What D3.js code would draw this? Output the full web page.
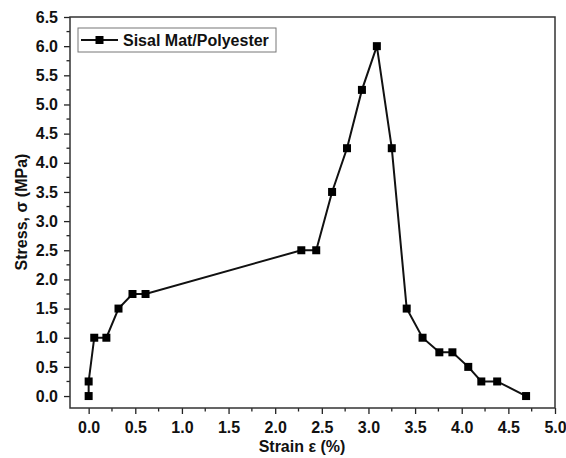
<!DOCTYPE html>
<html>
<head>
<meta charset="utf-8">
<script src="https://cdn.jsdelivr.net/npm/d3@7"></script>
<style>
  body { margin: 0; background: #fff; }
  text { font-family: "Liberation Sans", Arial, sans-serif; font-weight: bold; fill: #111; }
</style>
</head>
<body>
<div id="chart"></div>
<script>
const seriesName = 'Sisal Mat/Polyester';
const strain = [0.0, 0.0, 0.06, 0.19, 0.32, 0.47, 0.61, 2.28, 2.44, 2.61, 2.77, 2.93, 3.09, 3.25, 3.41, 3.58, 3.76, 3.90, 4.07, 4.21, 4.38, 4.69];
const stress = [0.0, 0.25, 1.0, 1.0, 1.5, 1.75, 1.75, 2.5, 2.5, 3.5, 4.25, 5.25, 6.0, 4.25, 1.5, 1.0, 0.75, 0.75, 0.5, 0.25, 0.25, 0.0];
const xTicks = [0, 0.5, 1, 1.5, 2, 2.5, 3, 3.5, 4, 4.5, 5];
const yTicks = [0, 0.5, 1, 1.5, 2, 2.5, 3, 3.5, 4, 4.5, 5, 5.5, 6, 6.5];

const width = 566;
const height = 458;
const margin = { top: 17, right: 11, bottom: 50, left: 70 };
const innerW = width - margin.left - margin.right;
const innerH = height - margin.top - margin.bottom;

const data = strain.map((s, i) => [s, stress[i]]);

const x = d3.scaleLinear().domain([-0.2, 5.0]).range([0, innerW]);
const y = d3.scaleLinear().domain([-0.205, 6.5]).range([innerH, 0]);

const svg = d3.select('#chart').append('svg')
  .attr('width', width)
  .attr('height', height);

const g = svg.append('g')
  .attr('transform', `translate(${margin.left},${margin.top})`);

// minor ticks
const xMinor = d3.range(0.25, 5, 0.5);
const yMinor = d3.range(0.25, 6.5, 0.5);

g.selectAll('.xminor')
  .data(xMinor)
  .enter()
  .append('line')
  .attr('x1', d => x(d)).attr('x2', d => x(d))
  .attr('y1', innerH).attr('y2', innerH + 3.5)
  .style('stroke', '#222').style('stroke-width', 1.3);

g.selectAll('.yminor')
  .data(yMinor)
  .enter()
  .append('line')
  .attr('y1', d => y(d)).attr('y2', d => y(d))
  .attr('x1', 0).attr('x2', -3.5)
  .style('stroke', '#222').style('stroke-width', 1.3);

const xAxis = g.append('g')
  .attr('transform', `translate(0,${innerH})`)
  .call(d3.axisBottom(x).tickValues(xTicks).tickFormat(d3.format('.1f')).tickSizeInner(6).tickSizeOuter(0).tickPadding(8));

const yAxis = g.append('g')
  .call(d3.axisLeft(y).tickValues(yTicks).tickFormat(d3.format('.1f')).tickSizeInner(6).tickSizeOuter(0).tickPadding(6));

[xAxis, yAxis].forEach(a => {
  a.select('.domain').remove();
  a.selectAll('line').style('stroke', '#222').style('stroke-width', 1.3);
  a.selectAll('text').style('font-size', '16px').style('font-family', '"Liberation Sans", Arial, sans-serif').style('font-weight', 'bold').style('fill', '#111');
});

// frame
g.append('rect')
  .attr('x', 0).attr('y', 0)
  .attr('width', innerW).attr('height', innerH)
  .style('fill', 'none')
  .style('stroke', '#333')
  .style('stroke-width', 1.5);

const line = d3.line()
  .x(d => x(d[0]))
  .y(d => y(d[1]));

g.append('path')
  .datum(data)
  .attr('d', line)
  .style('fill', 'none')
  .style('stroke', '#111')
  .style('stroke-width', 2);

const ms = 8;
g.selectAll('.pt')
  .data(data)
  .enter()
  .append('rect')
  .attr('x', d => x(d[0]) - ms / 2)
  .attr('y', d => y(d[1]) - ms / 2)
  .attr('width', ms).attr('height', ms)
  .style('fill', '#000');

// legend
const lg = g.append('g').attr('transform', 'translate(8,11)');
lg.append('rect')
  .attr('width', 198).attr('height', 24)
  .style('fill', '#fff')
  .style('stroke', '#777')
  .style('stroke-width', 1);
lg.append('line')
  .attr('x1', 3).attr('x2', 40)
  .attr('y1', 12).attr('y2', 12)
  .style('stroke', '#111').style('stroke-width', 2);
lg.append('rect')
  .attr('x', 21.5 - ms / 2).attr('y', 12 - ms / 2)
  .attr('width', ms).attr('height', ms)
  .style('fill', '#000');
lg.append('text')
  .attr('x', 45).attr('y', 18)
  .style('font-size', '16px')
  .text(seriesName);

// axis titles
svg.append('text')
  .attr('x', 302).attr('y', 452)
  .attr('text-anchor', 'middle')
  .style('font-size', '16px')
  .text('Strain ε (%)');

svg.append('text')
  .attr('transform', 'translate(27,212) rotate(-90)')
  .attr('text-anchor', 'middle')
  .style('font-size', '16px')
  .text('Stress, σ (MPa)');
</script>
</body>
</html>
